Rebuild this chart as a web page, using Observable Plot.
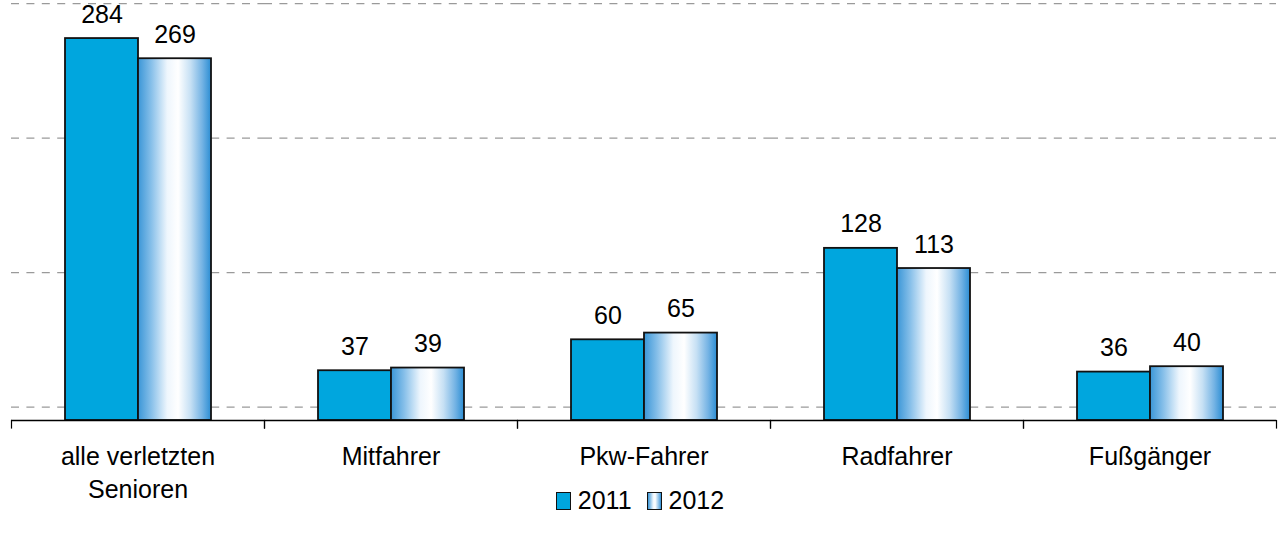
<!DOCTYPE html>
<html>
<head>
<meta charset="utf-8">
<script src="https://cdn.jsdelivr.net/npm/d3@7"></script>
<script src="https://cdn.jsdelivr.net/npm/@observablehq/plot@0.6"></script>
<style>
  html, body { margin: 0; padding: 0; background: #fff; }
  #wrap { position: relative; width: 1280px; height: 537px; font-family: "Liberation Sans", Arial, sans-serif; }
  #legend { position: absolute; left: 0; top: 488px; width: 1280px; display: flex; justify-content: center; align-items: center; font-size: 25px; line-height: 25px; color: #000; }
  .sw { width: 15px; height: 18px; box-sizing: border-box; border: 1.7px solid #111; margin-right: 7px; }
  .item { display: flex; align-items: center; }
  .item + .item { margin-left: 15px; }
</style>
</head>
<body>
<div id="wrap"></div>
<script>
const categories = ["alle verletzten\nSenioren", "Mitfahrer", "Pkw-Fahrer", "Radfahrer", "Fußgänger"];
const years = ["2011", "2012"];
const values2011 = [284, 37, 60, 128, 36];
const values2012 = [269, 39, 65, 113, 40];
const gridTicks = [10, 110, 210, 310];

const rows = [];
categories.forEach((c, i) => {
  rows.push({category: c, year: "2011", value: values2011[i]});
  rows.push({category: c, year: "2012", value: values2012[i]});
});

const fill2011 = "#00a6de";
const font = "'Liberation Sans', Arial, sans-serif";

const chart = Plot.plot({
  width: 1280,
  height: 510,
  marginTop: 0,
  marginBottom: 90,
  marginLeft: 9,
  marginRight: 3,
  style: {fontFamily: font, fontSize: "25px", color: "#000", background: "transparent", overflow: "visible"},
  fx: {domain: categories, padding: 0, label: null, axis: null},
  x: {domain: years, paddingInner: 0, paddingOuter: 0.73, axis: null},
  y: {domain: [0, 312.3], axis: null},
  color: {domain: years, range: [fill2011, "url(#grad2012)"]},
  marks: [
    Plot.gridY(gridTicks, {stroke: "#9a9a9a", strokeOpacity: 1, strokeWidth: 1.3, strokeDasharray: "8,7.4"}),
    Plot.barY(rows, {fx: "category", x: "year", y: "value", fill: "year", stroke: "#111", strokeWidth: 1.8}),
    Plot.text(rows, {fx: "category", x: "year", y: "value", text: d => String(d.value), dy: -24, fontSize: 25, fill: "#000"}),
    Plot.ruleY([0], {stroke: "#000", strokeWidth: 1.4}),
    Plot.frame({anchor: "left", insetTop: 420, insetBottom: -7.5, stroke: "#000", strokeWidth: 1.2}),
    Plot.frame({anchor: "right", insetTop: 420, insetBottom: -7.5, stroke: "#000", strokeWidth: 1.2}),
    Plot.axisFx({anchor: "bottom", tickSize: 0, tickPadding: 21, fontSize: 25, lineHeight: 1.33, label: null, fill: "#000"})
  ]
});

// horizontal gradient for the 2012 bars
const ns = "http://www.w3.org/2000/svg";
const defs = document.createElementNS(ns, "defs");
const grad = document.createElementNS(ns, "linearGradient");
grad.setAttribute("id", "grad2012");
grad.setAttribute("x1", "0"); grad.setAttribute("x2", "1");
grad.setAttribute("y1", "0"); grad.setAttribute("y2", "0");
[["0", "#3a96d7"], ["0.18", "#86bfe9"], ["0.4", "#eef6fd"], ["0.55", "#ffffff"], ["0.72", "#c6e0f4"], ["0.88", "#74b3e4"], ["1", "#2b8dd3"]].forEach(([o, c]) => {
  const s = document.createElementNS(ns, "stop");
  s.setAttribute("offset", o);
  s.setAttribute("stop-color", c);
  grad.appendChild(s);
});
defs.appendChild(grad);
chart.insertBefore(defs, chart.firstChild);

const wrap = document.getElementById("wrap");
wrap.appendChild(chart);

const legend = document.createElement("div");
legend.id = "legend";
years.forEach((y, i) => {
  const item = document.createElement("div");
  item.className = "item";
  const sw = document.createElement("div");
  sw.className = "sw";
  sw.style.background = i === 0 ? fill2011 : "linear-gradient(to right, #3a96d7 0%, #eef6fd 40%, #ffffff 55%, #74b3e4 88%, #2b8dd3 100%)";
  const t = document.createElement("span");
  t.textContent = y;
  item.appendChild(sw);
  item.appendChild(t);
  legend.appendChild(item);
});
wrap.appendChild(legend);
</script>
</body>
</html>
